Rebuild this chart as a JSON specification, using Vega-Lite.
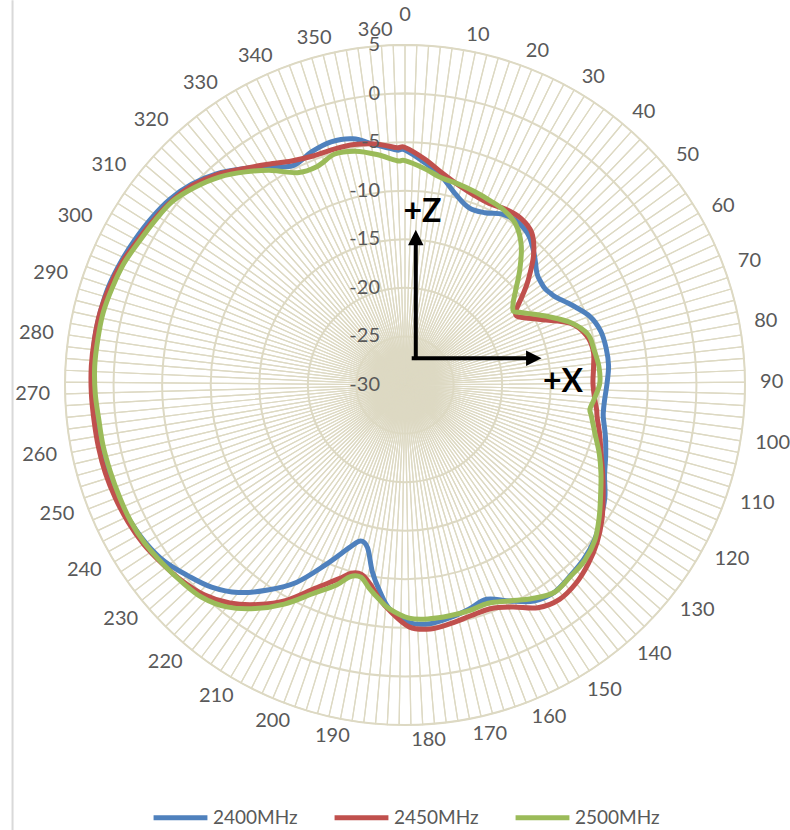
{
  "$schema": "https://vega.github.io/schema/vega-lite/v6.json",
  "width": 680,
  "height": 680,
  "autosize": {"type": "none"},
  "padding": {"left": 65, "top": 45, "right": 45, "bottom": 105},
  "background": "white",
  "config": {"view": {"stroke": null}, "font": "Lato"},
  "datasets": {
    "cats": [{"deg":0},{"deg":2},{"deg":4},{"deg":6},{"deg":8},{"deg":10},{"deg":12},{"deg":14},{"deg":16},{"deg":18},{"deg":20},{"deg":22},{"deg":24},{"deg":26},{"deg":28},{"deg":30},{"deg":32},{"deg":34},{"deg":36},{"deg":38},{"deg":40},{"deg":42},{"deg":44},{"deg":46},{"deg":48},{"deg":50},{"deg":52},{"deg":54},{"deg":56},{"deg":58},{"deg":60},{"deg":62},{"deg":64},{"deg":66},{"deg":68},{"deg":70},{"deg":72},{"deg":74},{"deg":76},{"deg":78},{"deg":80},{"deg":82},{"deg":84},{"deg":86},{"deg":88},{"deg":90},{"deg":92},{"deg":94},{"deg":96},{"deg":98},{"deg":100},{"deg":102},{"deg":104},{"deg":106},{"deg":108},{"deg":110},{"deg":112},{"deg":114},{"deg":116},{"deg":118},{"deg":120},{"deg":122},{"deg":124},{"deg":126},{"deg":128},{"deg":130},{"deg":132},{"deg":134},{"deg":136},{"deg":138},{"deg":140},{"deg":142},{"deg":144},{"deg":146},{"deg":148},{"deg":150},{"deg":152},{"deg":154},{"deg":156},{"deg":158},{"deg":160},{"deg":162},{"deg":164},{"deg":166},{"deg":168},{"deg":170},{"deg":172},{"deg":174},{"deg":176},{"deg":178},{"deg":180},{"deg":182},{"deg":184},{"deg":186},{"deg":188},{"deg":190},{"deg":192},{"deg":194},{"deg":196},{"deg":198},{"deg":200},{"deg":202},{"deg":204},{"deg":206},{"deg":208},{"deg":210},{"deg":212},{"deg":214},{"deg":216},{"deg":218},{"deg":220},{"deg":222},{"deg":224},{"deg":226},{"deg":228},{"deg":230},{"deg":232},{"deg":234},{"deg":236},{"deg":238},{"deg":240},{"deg":242},{"deg":244},{"deg":246},{"deg":248},{"deg":250},{"deg":252},{"deg":254},{"deg":256},{"deg":258},{"deg":260},{"deg":262},{"deg":264},{"deg":266},{"deg":268},{"deg":270},{"deg":272},{"deg":274},{"deg":276},{"deg":278},{"deg":280},{"deg":282},{"deg":284},{"deg":286},{"deg":288},{"deg":290},{"deg":292},{"deg":294},{"deg":296},{"deg":298},{"deg":300},{"deg":302},{"deg":304},{"deg":306},{"deg":308},{"deg":310},{"deg":312},{"deg":314},{"deg":316},{"deg":318},{"deg":320},{"deg":322},{"deg":324},{"deg":326},{"deg":328},{"deg":330},{"deg":332},{"deg":334},{"deg":336},{"deg":338},{"deg":340},{"deg":342},{"deg":344},{"deg":346},{"deg":348},{"deg":350},{"deg":352},{"deg":354},{"deg":356},{"deg":358},{"deg":360}],
    "rings": [{"dB":-30},{"dB":-25},{"dB":-20},{"dB":-15},{"dB":-10},{"dB":-5},{"dB":0},{"dB":5}],
    "pattern": [
      {"deg":0,"2400MHz":-5.8,"2450MHz":-5.55,"2500MHz":-6.9},
      {"deg":5,"2400MHz":-7.0,"2450MHz":-6.65,"2500MHz":-7.6},
      {"deg":10,"2400MHz":-8.2,"2450MHz":-7.85,"2500MHz":-8.35},
      {"deg":15,"2400MHz":-9.7,"2450MHz":-8.7,"2500MHz":-8.6},
      {"deg":20,"2400MHz":-10.6,"2450MHz":-9.2,"2500MHz":-8.85},
      {"deg":25,"2400MHz":-10.45,"2450MHz":-9.4,"2500MHz":-9.1},
      {"deg":30,"2400MHz":-9.75,"2450MHz":-9.15,"2500MHz":-9.35},
      {"deg":35,"2400MHz":-9.6,"2450MHz":-9.1,"2500MHz":-9.95},
      {"deg":40,"2400MHz":-10.05,"2450MHz":-9.6,"2500MHz":-11.3},
      {"deg":45,"2400MHz":-11.1,"2450MHz":-11.2,"2500MHz":-13.2},
      {"deg":50,"2400MHz":-12.2,"2450MHz":-13.4,"2500MHz":-15.1},
      {"deg":53,"2400MHz":-12.45,"2450MHz":-14.8,"2500MHz":-16.0},
      {"deg":56,"2400MHz":-12.5,"2450MHz":-16.1,"2500MHz":-16.5},
      {"deg":58,"2400MHz":-12.3,"2450MHz":-16.5,"2500MHz":-16.0},
      {"deg":60,"2400MHz":-12.05,"2450MHz":-16.2,"2500MHz":-15.4},
      {"deg":65,"2400MHz":-10.9,"2450MHz":-14.3,"2500MHz":-13.6},
      {"deg":70,"2400MHz":-9.7,"2450MHz":-11.8,"2500MHz":-11.7},
      {"deg":75,"2400MHz":-9.1,"2450MHz":-10.65,"2500MHz":-10.45},
      {"deg":80,"2400MHz":-8.95,"2450MHz":-10.3,"2500MHz":-10.2},
      {"deg":85,"2400MHz":-8.95,"2450MHz":-10.5,"2500MHz":-9.95},
      {"deg":90,"2400MHz":-9.2,"2450MHz":-10.65,"2500MHz":-9.95},
      {"deg":95,"2400MHz":-9.4,"2450MHz":-10.4,"2500MHz":-10.5},
      {"deg":98,"2400MHz":-9.4,"2450MHz":-10.1,"2500MHz":-10.8},
      {"deg":100,"2400MHz":-9.3,"2450MHz":-9.95,"2500MHz":-10.55},
      {"deg":105,"2400MHz":-8.7,"2450MHz":-9.3,"2500MHz":-9.8},
      {"deg":110,"2400MHz":-8.1,"2450MHz":-8.6,"2500MHz":-8.8},
      {"deg":115,"2400MHz":-7.45,"2450MHz":-7.65,"2500MHz":-7.85},
      {"deg":120,"2400MHz":-6.4,"2450MHz":-6.6,"2500MHz":-6.9},
      {"deg":125,"2400MHz":-5.6,"2450MHz":-5.45,"2500MHz":-5.8},
      {"deg":130,"2400MHz":-4.8,"2450MHz":-4.45,"2500MHz":-4.75},
      {"deg":135,"2400MHz":-4.3,"2450MHz":-3.65,"2500MHz":-4.15},
      {"deg":140,"2400MHz":-4.0,"2450MHz":-3.05,"2500MHz":-3.95},
      {"deg":145,"2400MHz":-3.7,"2450MHz":-2.8,"2500MHz":-3.7},
      {"deg":150,"2400MHz":-4.1,"2450MHz":-3.3,"2500MHz":-4.4},
      {"deg":155,"2400MHz":-5.3,"2450MHz":-4.6,"2500MHz":-5.3},
      {"deg":160,"2400MHz":-6.4,"2450MHz":-5.35,"2500MHz":-5.95},
      {"deg":165,"2400MHz":-6.0,"2450MHz":-5.3,"2500MHz":-5.85},
      {"deg":170,"2400MHz":-5.6,"2450MHz":-5.0,"2500MHz":-5.8},
      {"deg":175,"2400MHz":-5.3,"2450MHz":-4.75,"2500MHz":-5.8},
      {"deg":180,"2400MHz":-5.55,"2450MHz":-5.1,"2500MHz":-6.0},
      {"deg":185,"2400MHz":-6.9,"2450MHz":-6.75,"2500MHz":-6.9},
      {"deg":188,"2400MHz":-8.6,"2450MHz":-7.9,"2500MHz":-7.8},
      {"deg":191,"2400MHz":-10.5,"2450MHz":-9.2,"2500MHz":-8.75},
      {"deg":194,"2400MHz":-12.8,"2450MHz":-10.0,"2500MHz":-9.7},
      {"deg":197,"2400MHz":-13.3,"2450MHz":-9.85,"2500MHz":-9.5},
      {"deg":200,"2400MHz":-12.3,"2450MHz":-8.9,"2500MHz":-8.25},
      {"deg":205,"2400MHz":-9.75,"2450MHz":-7.1,"2500MHz":-6.5},
      {"deg":210,"2400MHz":-6.8,"2450MHz":-4.7,"2500MHz":-4.25},
      {"deg":215,"2400MHz":-4.6,"2450MHz":-2.8,"2500MHz":-2.3},
      {"deg":220,"2400MHz":-2.6,"2450MHz":-1.2,"2500MHz":-0.7},
      {"deg":225,"2400MHz":-1.2,"2450MHz":-0.1,"2500MHz":0.25},
      {"deg":230,"2400MHz":-0.25,"2450MHz":0.55,"2500MHz":0.65},
      {"deg":235,"2400MHz":0.7,"2450MHz":1.03,"2500MHz":1.0},
      {"deg":240,"2400MHz":1.25,"2450MHz":1.5,"2500MHz":1.35},
      {"deg":245,"2400MHz":1.57,"2450MHz":1.8,"2500MHz":1.53},
      {"deg":250,"2400MHz":1.8,"2450MHz":2.0,"2500MHz":1.57},
      {"deg":255,"2400MHz":1.95,"2450MHz":2.15,"2500MHz":1.62},
      {"deg":260,"2400MHz":2.04,"2450MHz":2.2,"2500MHz":1.7},
      {"deg":265,"2400MHz":2.05,"2450MHz":2.22,"2500MHz":1.72},
      {"deg":270,"2400MHz":2.12,"2450MHz":2.3,"2500MHz":1.9},
      {"deg":275,"2400MHz":2.2,"2450MHz":2.35,"2500MHz":2.0},
      {"deg":280,"2400MHz":2.3,"2450MHz":2.32,"2500MHz":1.97},
      {"deg":285,"2400MHz":2.25,"2450MHz":2.27,"2500MHz":1.95},
      {"deg":290,"2400MHz":2.15,"2450MHz":2.05,"2500MHz":1.75},
      {"deg":295,"2400MHz":1.88,"2450MHz":1.75,"2500MHz":1.53},
      {"deg":300,"2400MHz":1.57,"2450MHz":1.3,"2500MHz":1.1},
      {"deg":305,"2400MHz":1.25,"2450MHz":0.95,"2500MHz":0.8},
      {"deg":310,"2400MHz":0.85,"2450MHz":0.58,"2500MHz":0.5},
      {"deg":315,"2400MHz":0.15,"2450MHz":0.0,"2500MHz":-0.3},
      {"deg":320,"2400MHz":-0.85,"2450MHz":-0.95,"2500MHz":-1.3},
      {"deg":325,"2400MHz":-2.2,"2450MHz":-2.2,"2500MHz":-2.6},
      {"deg":330,"2400MHz":-3.55,"2450MHz":-3.25,"2500MHz":-4.0},
      {"deg":335,"2400MHz":-4.65,"2450MHz":-4.15,"2500MHz":-5.5},
      {"deg":340,"2400MHz":-4.15,"2450MHz":-4.6,"2500MHz":-5.75},
      {"deg":345,"2400MHz":-3.85,"2450MHz":-4.65,"2500MHz":-5.15},
      {"deg":350,"2400MHz":-4.1,"2450MHz":-4.7,"2500MHz":-5.4},
      {"deg":355,"2400MHz":-5.1,"2450MHz":-5.0,"2500MHz":-6.1},
      {"deg":360,"2400MHz":-5.8,"2450MHz":-5.55,"2500MHz":-6.9}
    ]
  },
  "resolve": {"scale": {"theta": "independent"}},
  "layer": [
    {
      "data": {"values": [{}]},
      "mark": {"type": "rule", "color": "#D9D9D9", "strokeWidth": 2, "clip": false},
      "encoding": {
        "x": {"datum": -40.4, "type": "quantitative", "scale": {"domain": [-35, 35], "nice": false, "zero": false}, "axis": null},
        "y": {"datum": 39.6, "type": "quantitative", "scale": {"domain": [-35, 35], "nice": false, "zero": false}, "axis": null},
        "y2": {"datum": -45.8}
      }
    },
    {
      "data": {"name": "cats"},
      "mark": {"type": "arc", "fill": null, "stroke": "#DDD9C3", "strokeWidth": 1.2},
      "encoding": {
        "theta": {"aggregate": "count", "type": "quantitative", "stack": true},
        "detail": {"field": "deg", "type": "ordinal"}
      }
    },
    {
      "data": {"name": "rings"},
      "transform": [{"filter": "datum.dB > -30"}],
      "mark": {"type": "arc", "fill": null, "stroke": "#DDD9C3", "strokeWidth": 2},
      "encoding": {
        "theta": {"datum": 1, "type": "quantitative", "scale": {"domain": [0, 1], "range": [0, 6.2832]}},
        "radius": {"field": "dB", "type": "quantitative", "scale": {"type": "linear", "domain": [-30, 5], "range": [0, 340], "zero": false, "nice": false}},
        "radius2": {"field": "dB"}
      }
    },
    {
      "data": {"name": "pattern"},
      "transform": [
        {"fold": ["2400MHz", "2450MHz", "2500MHz"], "as": ["series", "dB"]},
        {"calculate": "(datum.dB + 30) * sin(datum.deg * PI / 181)", "as": "px"},
        {"calculate": "(datum.dB + 30) * cos(datum.deg * PI / 181)", "as": "py"}
      ],
      "mark": {"type": "line", "interpolate": "cardinal-closed", "strokeWidth": 5, "strokeJoin": "round", "strokeCap": "round"},
      "encoding": {
        "x": {"field": "px", "type": "quantitative", "scale": {"domain": [-35, 35], "nice": false, "zero": false}, "axis": null},
        "y": {"field": "py", "type": "quantitative", "scale": {"domain": [-35, 35], "nice": false, "zero": false}, "axis": null},
        "order": {"field": "deg", "type": "quantitative"},
        "color": {
          "field": "series", "type": "nominal",
          "scale": {"domain": ["2400MHz", "2450MHz", "2500MHz"], "range": ["#4F81BD", "#C0504D", "#9BBB59"]},
          "legend": {
            "orient": "none", "legendX": 86, "legendY": 743, "direction": "horizontal", "title": null,
            "symbolType": "stroke", "symbolSize": 2900, "symbolStrokeWidth": 5,
            "labelFont": "Lato", "labelFontSize": 19, "labelColor": "#595959", "labelOffset": 3,
            "columnPadding": 26, "padding": 0
          }
        }
      }
    },
    {
      "data": {"name": "rings"},
      "mark": {"type": "text", "align": "right", "baseline": "middle", "dx": -25, "fontSize": 20, "font": "Lato", "color": "#595959"},
      "encoding": {
        "theta": {"datum": 0, "type": "quantitative", "scale": {"domain": [0, 362], "range": [0, 6.28318]}},
        "radius": {"field": "dB", "type": "quantitative", "scale": {"type": "linear", "domain": [-30, 5], "range": [0, 340], "zero": false, "nice": false}},
        "text": {"field": "dB", "type": "nominal"}
      }
    },
    {
      "data": {"name": "cats"},
      "transform": [{"filter": "datum.deg % 10 == 0 && datum.deg > 0 && datum.deg <= 180"}],
      "mark": {"type": "text", "align": "left", "baseline": "middle", "fontSize": 20, "font": "Lato", "color": "#595959"},
      "encoding": {
        "theta": {"field": "deg", "type": "quantitative", "scale": {"domain": [0, 362], "range": [0, 6.28318]}},
        "radius": {"datum": 6.55, "type": "quantitative", "scale": {"type": "linear", "domain": [-30, 5], "range": [0, 340], "zero": false, "nice": false}},
        "text": {"field": "deg", "type": "nominal"}
      }
    },
    {
      "data": {"name": "cats"},
      "transform": [{"filter": "datum.deg % 10 == 0 && datum.deg > 180"}],
      "mark": {"type": "text", "align": "right", "baseline": "middle", "fontSize": 20, "font": "Lato", "color": "#595959"},
      "encoding": {
        "theta": {"field": "deg", "type": "quantitative", "scale": {"domain": [0, 362], "range": [0, 6.28318]}},
        "radius": {"datum": 6.55, "type": "quantitative", "scale": {"type": "linear", "domain": [-30, 5], "range": [0, 340], "zero": false, "nice": false}},
        "text": {"field": "deg", "type": "nominal"}
      }
    },
    {
      "data": {"name": "cats"},
      "transform": [{"filter": "datum.deg == 0"}],
      "mark": {"type": "text", "align": "center", "baseline": "middle", "fontSize": 20, "font": "Lato", "color": "#595959"},
      "encoding": {
        "theta": {"field": "deg", "type": "quantitative", "scale": {"domain": [0, 362], "range": [0, 6.28318]}},
        "radius": {"datum": 8.09, "type": "quantitative", "scale": {"type": "linear", "domain": [-30, 5], "range": [0, 340], "zero": false, "nice": false}},
        "text": {"field": "deg", "type": "nominal"}
      }
    },
    {
      "data": {"values": [{}]},
      "mark": {"type": "rule", "color": "black", "strokeWidth": 4},
      "encoding": {
        "x": {"datum": 1.11, "type": "quantitative", "scale": {"domain": [-35, 35], "nice": false, "zero": false}, "axis": null},
        "y": {"datum": 2.57, "type": "quantitative", "scale": {"domain": [-35, 35], "nice": false, "zero": false}, "axis": null},
        "y2": {"datum": 14.8}
      }
    },
    {
      "data": {"values": [{}]},
      "mark": {"type": "rule", "color": "black", "strokeWidth": 4},
      "encoding": {
        "x": {"datum": 0.69, "type": "quantitative", "scale": {"domain": [-35, 35], "nice": false, "zero": false}, "axis": null},
        "x2": {"datum": 12.7},
        "y": {"datum": 2.75, "type": "quantitative", "scale": {"domain": [-35, 35], "nice": false, "zero": false}, "axis": null}
      }
    },
    {
      "data": {"values": [{}]},
      "mark": {"type": "point", "shape": "M0,-1L1,1L-1,1Z", "filled": true, "color": "black", "opacity": 1, "size": 240, "strokeWidth": 0},
      "encoding": {
        "x": {"datum": 1.11, "type": "quantitative", "scale": {"domain": [-35, 35], "nice": false, "zero": false}, "axis": null},
        "y": {"datum": 15.18, "type": "quantitative", "scale": {"domain": [-35, 35], "nice": false, "zero": false}, "axis": null}
      }
    },
    {
      "data": {"values": [{}]},
      "mark": {"type": "point", "shape": "M1,0L-1,1L-1,-1Z", "filled": true, "color": "black", "opacity": 1, "size": 240, "strokeWidth": 0},
      "encoding": {
        "x": {"datum": 13.26, "type": "quantitative", "scale": {"domain": [-35, 35], "nice": false, "zero": false}, "axis": null},
        "y": {"datum": 2.75, "type": "quantitative", "scale": {"domain": [-35, 35], "nice": false, "zero": false}, "axis": null}
      }
    },
    {
      "data": {"values": [{}]},
      "mark": {"type": "text", "text": "+Z", "font": "Lato", "fontWeight": "bold", "fontSize": 32, "color": "black", "align": "center", "baseline": "middle"},
      "encoding": {
        "x": {"datum": 1.8, "type": "quantitative", "scale": {"domain": [-35, 35], "nice": false, "zero": false}, "axis": null},
        "y": {"datum": 17.8, "type": "quantitative", "scale": {"domain": [-35, 35], "nice": false, "zero": false}, "axis": null}
      }
    },
    {
      "data": {"values": [{}]},
      "mark": {"type": "text", "text": "+X", "font": "Lato", "fontWeight": "bold", "fontSize": 32, "color": "black", "align": "center", "baseline": "middle"},
      "encoding": {
        "x": {"datum": 16.27, "type": "quantitative", "scale": {"domain": [-35, 35], "nice": false, "zero": false}, "axis": null},
        "y": {"datum": 0.3, "type": "quantitative", "scale": {"domain": [-35, 35], "nice": false, "zero": false}, "axis": null}
      }
    }
  ]
}
